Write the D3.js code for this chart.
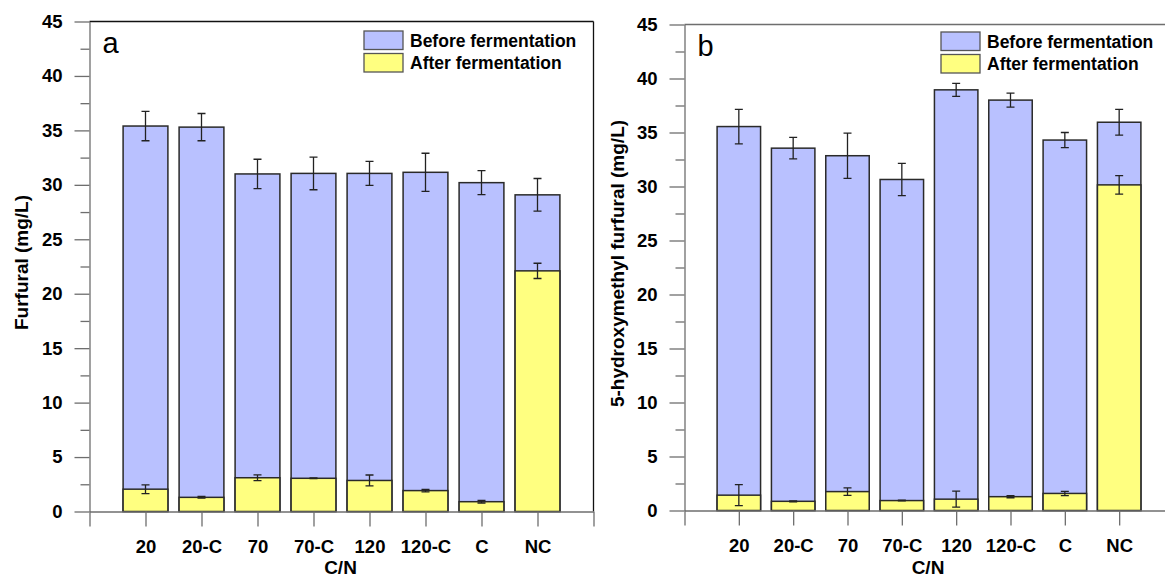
<!DOCTYPE html>
<html>
<head>
<meta charset="utf-8">
<script src="https://cdn.jsdelivr.net/npm/d3@7"></script>
<style>
  html, body { margin: 0; padding: 0; background: #fff; }
  svg { display: block; font-family: "Liberation Sans", Arial, sans-serif; }
</style>
</head>
<body>
<svg id="chart" width="1165" height="578"></svg>
<script>
// C/N treatments on the x axis
const categories = ["20", "20-C", "70", "70-C", "120", "120-C", "C", "NC"];

// Furfural (mg/L)
const furfuralBefore    = [35.4, 35.3, 31.0, 31.05, 31.05, 31.15, 30.2, 29.08];
const furfuralBeforeErr = [1.35, 1.25, 1.35, 1.5, 1.1, 1.75, 1.1, 1.5];
const furfuralAfter     = [2.05, 1.3, 3.1, 3.05, 2.85, 1.92, 0.9, 22.1];
const furfuralAfterErr  = [0.4, 0.08, 0.27, 0.04, 0.5, 0.12, 0.12, 0.7];

// 5-hydroxymethyl furfural (mg/L)
const hmfBefore    = [35.55, 33.55, 32.85, 30.65, 38.95, 38.0, 34.3, 35.95];
const hmfBeforeErr = [1.6, 1.0, 2.1, 1.5, 0.6, 0.65, 0.7, 1.2];
const hmfAfter     = [1.42, 0.85, 1.75, 0.92, 1.05, 1.28, 1.58, 30.15];
const hmfAfterErr  = [0.97, 0.05, 0.35, 0.03, 0.74, 0.1, 0.2, 0.85];

// Axis ticks
const yMajorTicks = [0, 5, 10, 15, 20, 25, 30, 35, 40, 45];
const yMinorTicks = [2.5, 7.5, 12.5, 17.5, 22.5, 27.5, 32.5, 37.5, 42.5];
const seriesNames = ["Before fermentation", "After fermentation"];

const BEFORE_FILL = "#B9C1FF";
const AFTER_FILL = "#FFFF80";
const BAR_STROKE = "#2a2a2a";
const AXIS_COLOR = "#6e6e6e";

const svg = d3.select("#chart");

function drawPanel(opt) {
  const g = svg.append("g");
  const x = d3.scaleLinear().domain([0, categories.length + 1]).range([opt.left, opt.right]);
  const y = d3.scaleLinear().domain([0, 45]).range([opt.bottom, opt.top]);
  const step = x(1) - x(0);
  const bw = step * 0.8;

  // overlaid bars: before (full height) then after in front
  const bars = g.append("g");
  bars.selectAll("rect.before").data(opt.before).join("rect")
    .attr("class", "before")
    .attr("x", (d, i) => x(i + 1) - bw / 2)
    .attr("width", bw)
    .attr("y", d => y(d))
    .attr("height", d => y(0) - y(d))
    .attr("fill", BEFORE_FILL)
    .attr("stroke", BAR_STROKE)
    .attr("stroke-width", 1.5);
  bars.selectAll("rect.after").data(opt.after).join("rect")
    .attr("class", "after")
    .attr("x", (d, i) => x(i + 1) - bw / 2)
    .attr("width", bw)
    .attr("y", d => y(d))
    .attr("height", d => y(0) - y(d))
    .attr("fill", AFTER_FILL)
    .attr("stroke", BAR_STROKE)
    .attr("stroke-width", 1.5);

  // error bars
  function errorBars(vals, errs) {
    const cap = 4;
    const eg = g.append("g").attr("stroke", "#222").attr("stroke-width", 1.3).attr("fill", "none");
    vals.forEach((v, i) => {
      const cx = x(i + 1);
      const y1 = y(v + errs[i]), y2 = y(v - errs[i]);
      eg.append("path").attr("d",
        `M${cx},${y1}V${y2}M${cx - cap},${y1}H${cx + cap}M${cx - cap},${y2}H${cx + cap}`);
    });
  }
  errorBars(opt.before, opt.beforeErr);
  errorBars(opt.after, opt.afterErr);

  // frame top and right
  g.append("line").attr("x1", opt.left).attr("x2", opt.right).attr("y1", opt.top).attr("y2", opt.top)
    .attr("stroke", opt.frameColor).attr("stroke-width", 1.3);
  g.append("line").attr("x1", opt.right).attr("x2", opt.right).attr("y1", opt.top).attr("y2", opt.bottom)
    .attr("stroke", opt.frameColor).attr("stroke-width", 1.3);

  // bottom axis
  const xTicks = d3.range(0, categories.length + 2);
  const xAxis = d3.axisBottom(x)
    .tickValues(xTicks)
    .tickFormat(d => (d >= 1 && d <= categories.length) ? categories[d - 1] : "")
    .tickSizeInner(15).tickSizeOuter(0).tickPadding(13);
  const gx = g.append("g").attr("transform", `translate(0,${opt.bottom})`).call(xAxis);
  gx.selectAll("path, line").attr("stroke", AXIS_COLOR).attr("stroke-width", 1.3);
  gx.selectAll("text").attr("font-size", 18.5).attr("font-weight", "bold").attr("fill", "#000")
    .attr("font-family", "Liberation Sans, Arial, sans-serif");

  // left axis: major and minor ticks
  const yAxis = d3.axisLeft(y).tickValues(yMajorTicks).tickFormat(d3.format("d"))
    .tickSizeInner(15).tickSizeOuter(0).tickPadding(12);
  const gy = g.append("g").attr("transform", `translate(${opt.left},0)`).call(yAxis);
  gy.selectAll("path, line").attr("stroke", AXIS_COLOR).attr("stroke-width", 1.3);
  gy.selectAll("text").attr("font-size", 18.5).attr("font-weight", "bold").attr("fill", "#000")
    .attr("font-family", "Liberation Sans, Arial, sans-serif");
  const gyMinor = g.append("g").attr("transform", `translate(${opt.left},0)`)
    .call(d3.axisLeft(y).tickValues(yMinorTicks).tickFormat("").tickSizeInner(9).tickSizeOuter(0));
  gyMinor.select("path").remove();
  gyMinor.selectAll("line").attr("stroke", AXIS_COLOR).attr("stroke-width", 1.3);

  // axis titles
  g.append("text")
    .attr("transform", `translate(${opt.yTitleX},${(opt.top + opt.bottom) / 2 - 4}) rotate(-90)`)
    .attr("text-anchor", "middle").attr("dy", "0.35em")
    .attr("font-size", 19).attr("font-weight", "bold")
    .text(opt.yTitle);
  g.append("text")
    .attr("x", (opt.left + opt.right) / 2 - 1).attr("y", 574)
    .attr("text-anchor", "middle")
    .attr("font-size", 19).attr("font-weight", "bold")
    .text("C/N");

  // panel letter
  g.append("text").attr("x", opt.left + 13).attr("y", opt.top + 31)
    .attr("font-size", 29).text(opt.letter);

  // legend
  const lg = g.append("g").attr("transform", `translate(${opt.legendX},${opt.legendY})`);
  const fills = [BEFORE_FILL, AFTER_FILL];
  seriesNames.forEach((name, i) => {
    lg.append("rect").attr("x", 0).attr("y", i * 22.5).attr("width", 39).attr("height", 18.5)
      .attr("fill", fills[i]).attr("stroke", "#555").attr("stroke-width", 1.3);
    lg.append("text").attr("x", 46).attr("y", i * 22.5 + 15.5)
      .attr("font-size", 17.5).attr("font-weight", "bold").text(name);
  });
}

drawPanel({
  left: 89.5, right: 593.5, top: 21.5, bottom: 511.5,
  before: furfuralBefore, beforeErr: furfuralBeforeErr,
  after: furfuralAfter, afterErr: furfuralAfterErr,
  yTitle: "Furfural (mg/L)", yTitleX: 21, letter: "a",
  legendX: 364, legendY: 31, frameColor: "#111"
});

drawPanel({
  left: 684.5, right: 1173.5, top: 24.5, bottom: 510.5,
  before: hmfBefore, beforeErr: hmfBeforeErr,
  after: hmfAfter, afterErr: hmfAfterErr,
  yTitle: "5-hydroxymethyl furfural (mg/L)", yTitleX: 617, letter: "b",
  legendX: 941, legendY: 32, frameColor: AXIS_COLOR
});
</script>
</body>
</html>
